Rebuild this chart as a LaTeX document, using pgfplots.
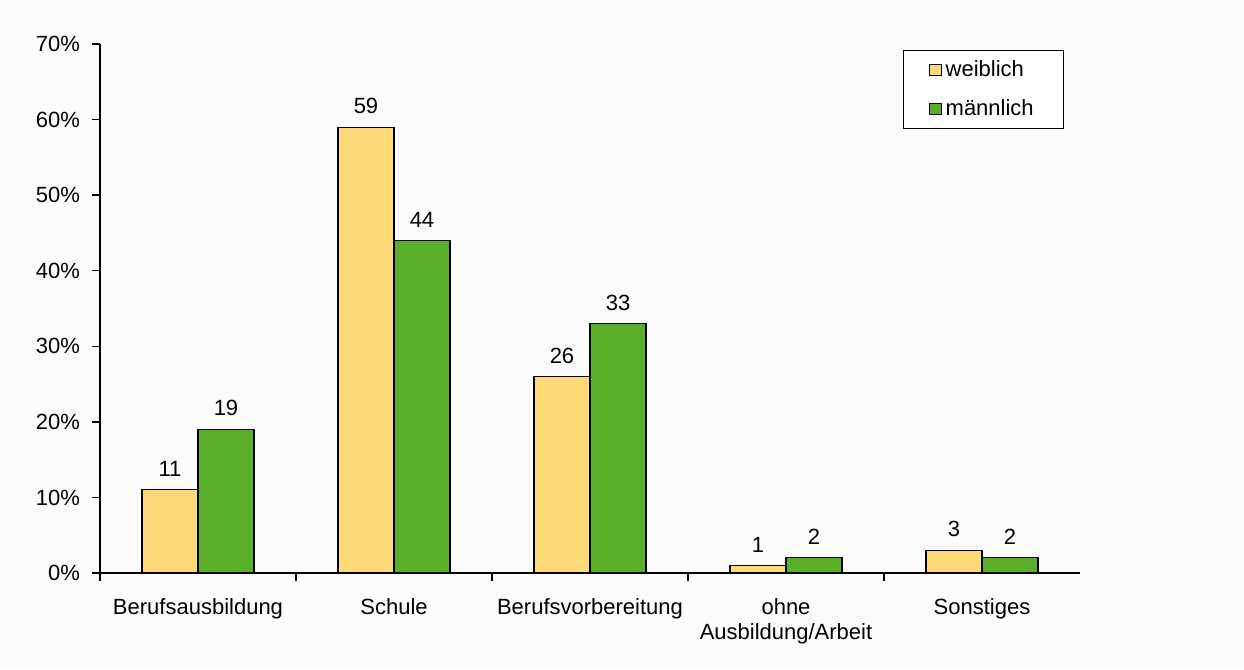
\documentclass[border=0pt]{standalone}
\usepackage{pgfplots}
\pgfplotsset{compat=1.18}
\usetikzlibrary{backgrounds}
\usepackage{fontspec}
\setmainfont{Liberation Sans}
\definecolor{wcol}{RGB}{255,216,120}
\definecolor{mcol}{RGB}{90,174,40}
\definecolor{bgc}{RGB}{252,252,252}
\begin{document}
\begin{tikzpicture}
\begin{axis}[
  scale only axis,
  width=490pt, height=264.5pt,
  ybar=0pt, bar width=28pt,
  xmin=-0.5, xmax=4.5,
  ymin=0, ymax=70,
  axis x line*=bottom, axis y line*=left,
  axis line style={line width=0.9pt},
  xtick={0,1,2,3,4},
  xticklabels={Berufsausbildung,Schule,Berufsvorbereitung,{ohne\\Ausbildung/Arbeit},Sonstiges},
  xticklabel style={align=center, font=\fontsize{11}{12.5}\selectfont, yshift=-5pt},
  major x tick style={draw=none},
  minor xtick={-0.5,0.5,1.5,2.5,3.5},
  minor x tick style={line width=0.7pt, black},
  minor tick length=4pt,
  ytick={0,10,...,70},
  yticklabel={\pgfmathprintnumber{\tick}\%},
  yticklabel style={font=\fontsize{11}{12}\selectfont, xshift=-2.5pt},
  major y tick style={line width=0.7pt, black},
  major tick length=4pt,
  tick align=outside,
  /pgf/number format/assume math mode=true,
  nodes near coords,
  nodes near coords style={font=\fontsize{11}{12}\selectfont, black, yshift=3pt},
  every axis plot/.append style={draw=black, line width=0.55pt},
  legend style={at={(0.984,0.989)}, anchor=north east, draw=black, line width=0.6pt, fill=white,
     font=\fontsize{11}{12}\selectfont, inner xsep=13pt, inner ysep=3pt, row sep=6pt, cells={anchor=west}},
  legend image code/.code={\draw[#1, line width=0.5pt] (0pt,-2.8pt) rectangle (5.6pt,2.8pt);},
  clip=false,
]
\coordinate (bl) at (axis description cs:-0.10204,-0.18147);
\coordinate (tr) at (axis description cs:1.16735,1.0832);
\addplot[fill=wcol] coordinates {(0,11) (1,59) (2,26) (3,1) (4,3)};
\addplot[fill=mcol] coordinates {(0,19) (1,44) (2,33) (3,2) (4,2)};
\legend{weiblich,männlich}
\end{axis}
\begin{pgfonlayer}{background}
\fill[bgc] (bl) rectangle (tr);
\end{pgfonlayer}
\end{tikzpicture}
\end{document}
